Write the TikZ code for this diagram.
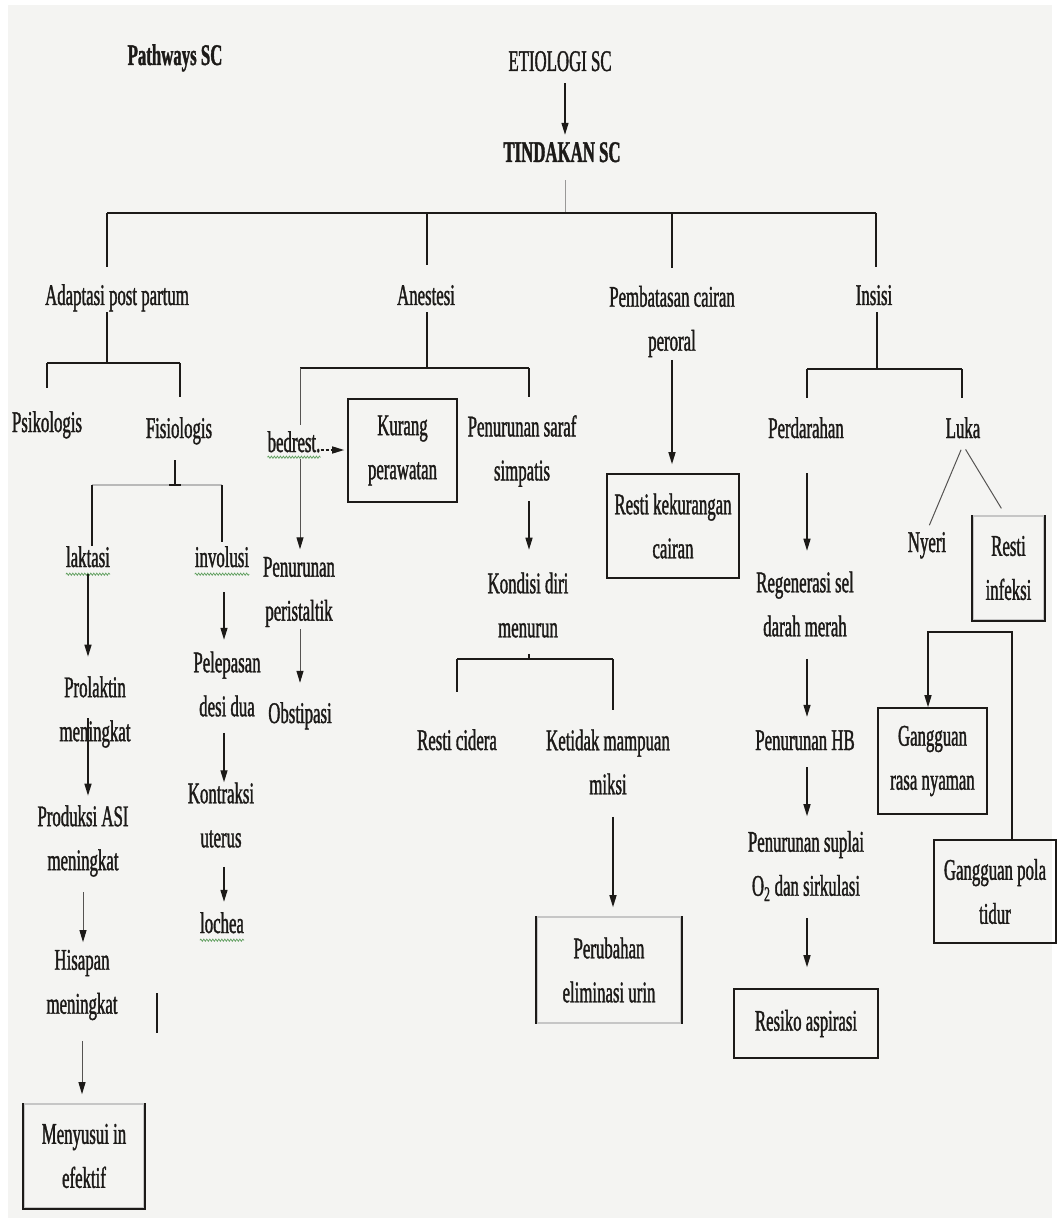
\documentclass[tikz,border=0pt]{standalone}
\usepackage{fontspec}
\setmainfont{Liberation Serif}[FakeStretch=0.56, UprightFeatures={FakeBold=1.2}, BoldFeatures={FakeBold=1.2}]
\usetikzlibrary{arrows.meta,decorations.pathmorphing}
\definecolor{bg}{HTML}{F4F4F2}
\definecolor{ink}{HTML}{1C1A18}
\definecolor{wavygreen}{HTML}{5E9E5E}
\tikzset{
  lbl/.style={font=\fontsize{30}{44}\selectfont, text=ink, inner sep=0pt},
  one/.style={lbl, text height=21pt, text depth=7pt},
  two/.style={lbl, align=center},
  bx/.style={lbl, align=center, draw=ink, line width=1.6pt},
  ln/.style={draw=ink, line width=1.4pt},
  thinln/.style={draw=ink!75, line width=1pt},
  arr/.style={ln, -{Triangle[length=12pt,width=7pt]}},
  thinarr/.style={thinln, -{Triangle[length=12pt,width=7pt,color=ink]}},
  wav/.style={draw=wavygreen, line width=0.7pt, decorate, decoration={snake, amplitude=1.1pt, segment length=3pt}},
}
\begin{document}
\begin{tikzpicture}[x=1pt,y=-1pt]
\useasboundingbox (0,0) rectangle (1058,1222);
\fill[white] (0,0) rectangle (1058,1222);
\fill[bg] (8,5) rectangle (1052,1218);

% ---- top ----
\node[one, font=\fontsize{30}{44}\selectfont\bfseries] (pathways) at (175,58) {Pathways SC};
\node[one] (etiologi) at (560,64) {ETIOLOGI SC};
\node[one, font=\fontsize{30}{44}\selectfont\bfseries] (tindakan) at (562,155) {TINDAKAN SC};

% ---- level 1 ----
\node[one] (adapt) at (117,298) {Adaptasi post partum};
\node[one] (anest) at (426,298) {Anestesi};
\node[two] (pembat) at (672,321.5) {Pembatasan cairan\\peroral};
\node[one] (insisi) at (874,298) {Insisi};

% ---- adaptasi branch ----
\node[one] (psiko) at (47,425) {Psikologis};
\node[one] (fisio) at (179,431) {Fisiologis};
\node[one] (laktasi) at (88,560) {laktasi};
\node[one] (involusi) at (222,560) {involusi};
\node[two] (prolaktin) at (95,712) {Prolaktin\\meningkat};
\node[two] (produksi) at (83,841) {Produksi ASI\\meningkat};
\node[two] (hisapan) at (82,985) {Hisapan\\meningkat};
\node[bx, draw=gray!45, minimum width=120pt, minimum height=104pt] (menyusui) at (84,1156) {Menyusui in\\efektif};
\node[two] (pelepasan) at (227,684) {Pelepasan\\desi dua};
\node[two] (kontraksi) at (221,815) {Kontraksi\\uterus};
\node[one] (lochea) at (222,926) {lochea};

% ---- anestesi branch ----
\node[one] (bedrest) at (294,445) {bedrest.};
\node[bx, minimum width=109pt, minimum height=103pt] (kurang) at (402.5,450.5) {Kurang\\perawatan};
\node[two] (penPeris) at (299,592) {Penurunan\\peristaltik};
\node[one] (obstipasi) at (300,716) {Obstipasi};
\node[two] (penSaraf) at (522,451) {Penurunan saraf\\simpatis};
\node[two] (kondisi) at (528,605) {Kondisi diri\\menurun};
\node[one] (restiCidera) at (457,743) {Resti cidera};
\node[two] (ketidak) at (608,762) {Ketidak mampuan\\miksi};
\node[bx, draw=gray!45, minimum width=144pt, minimum height=106pt] (perubahan) at (609,970) {Perubahan\\eliminasi urin};

% ---- pembatasan branch ----
\node[bx, minimum width=132pt, minimum height=104pt] (restiKek) at (673,526) {Resti kekurangan\\cairan};

% ---- insisi branch ----
\node[one] (perdarahan) at (806,431) {Perdarahan};
\node[one] (luka) at (963,431) {Luka};
\node[one] (nyeri) at (927,545) {Nyeri};
\node[bx, draw=gray!45, minimum width=71pt, minimum height=104pt] (restiInf) at (1008.5,568) {Resti\\infeksi};
\node[two] (regen) at (805,604) {Regenerasi sel\\darah merah};
\node[one] (penHB) at (805,743) {Penurunan HB};
\node[two] (penSuplai) at (806,866) {Penurunan suplai\\O\textsubscript{2} dan sirkulasi};
\node[bx, minimum width=144pt, minimum height=69pt] (resiko) at (806,1023.5) {Resiko aspirasi};
\node[bx, minimum width=109pt, minimum height=106pt] (ggRasa) at (932.5,761) {Gangguan\\rasa nyaman};
\node[bx, minimum width=122pt, minimum height=103pt] (ggPola) at (995,891.5) {Gangguan pola\\tidur};

% ---- partially pale box edges ----
\draw[ln, line width=1.6pt] (menyusui.north west) -- (menyusui.south west) -- (menyusui.south east) -- (menyusui.north east);
\draw[ln, line width=1.6pt] (perubahan.north west) -- (perubahan.south west);
\draw[ln, line width=1.6pt] (perubahan.north east) -- (perubahan.south east);
\draw[ln, line width=1.6pt] (restiInf.north west) -- (restiInf.south west) -- (restiInf.south east) -- (restiInf.north east);

% ---- spell-check underlines ----
\draw[wav] (laktasi.south west) -- (laktasi.south east);
\draw[wav] (involusi.south west) -- (involusi.south east);
\draw[wav] ([yshift=2pt]bedrest.south west) -- ([yshift=2pt]bedrest.south east);
\draw[wav] (lochea.south west) -- (lochea.south east);

% ---- column helpers ----
\coordinate (cEt) at (565,0);
\coordinate (cLak) at (88,0);
\coordinate (cInv) at (224,0);

% ---- top connectors ----
\draw[arr, shorten <=5pt, shorten >=6pt] (cEt |- etiologi.south) -- (cEt |- tindakan.north);
\coordinate (t0) at (565,213);
\coordinate (t1) at (107,213);
\coordinate (t2) at (427,213);
\coordinate (t3) at (672,213);
\coordinate (t4) at (876,213);
\draw[thinln, draw=ink!45, shorten <=11pt] (t0 |- tindakan.south) -- (t0);
\draw[ln] (t1) -- (t4);
\draw[ln, shorten >=17pt] (t1) -- (t1 |- adapt.north);
\draw[ln, shorten >=19pt] (t2) -- (t2 |- anest.north);
\draw[ln, shorten >=18pt] (t3) -- (t3 |- pembat.north);
\draw[ln, shorten >=17pt] (t4) -- (t4 |- insisi.north);

% ---- adaptasi ----
\coordinate (a0) at (107,363);
\coordinate (a1) at (47,363);
\coordinate (a2) at (180,363);
\draw[ln] (adapt.south -| a0) -- (a0);
\draw[ln] (a1) -- (a2);
\draw[ln, shorten >=23pt] (a1) -- (a1 |- psiko.north);
\draw[ln, shorten >=20pt] (a2) -- (a2 |- fisio.north);

\coordinate (f0) at (175,485);
\coordinate (f1) at (92,485);
\coordinate (f2) at (222,485);
\draw[ln, shorten <=15pt] (fisio.south -| f0) -- (f0);
\draw[draw=gray!55, line width=2.4pt] (f1) -- (f2);
\draw[ln] ([xshift=-6pt]f0) -- ([xshift=6pt]f0);
\draw[ln] (f1) -- (f1 |- laktasi.north);
\draw[ln, shorten >=4pt] (f2) -- (f2 |- involusi.north);

\draw[arr, shorten >=19.5pt] (cLak |- laktasi.south) -- (cLak |- prolaktin.north);
\draw[arr, shorten <=6pt, shorten >=9.5pt] (cLak |- prolaktin.center) -- (cLak |- produksi.north);
\draw[thinarr, shorten <=15.5pt, shorten >=7.5pt] (produksi.south) -- (produksi.south |- hisapan.north);
\draw[thinarr, shorten <=20.5pt, shorten >=9pt] (hisapan.south) -- (hisapan.south |- menyusui.north);
\draw[ink, line width=2.2pt] (157,993) -- (157,1033);

\draw[arr, shorten <=18pt, shorten >=11.5pt] (cInv |- involusi.south) -- (cInv |- pelepasan.north);
\draw[arr, shorten <=16pt] (cInv |- pelepasan.south) -- (cInv |- kontraksi.north);
\draw[arr, shorten <=19pt, shorten >=10pt] (cInv |- kontraksi.south) -- (cInv |- lochea.north);

% ---- anestesi ----
\coordinate (n0) at (427,368);
\coordinate (n1) at (300,368);
\coordinate (n2) at (529,368);
\draw[ln] (anest.south -| n0) -- (n0);
\draw[ln] (n1) -- (n2);
\draw[thinln, shorten >=6pt] (n1) -- (n1 |- bedrest.north);
\draw[thinarr, shorten >=7.5pt] (n1 |- bedrest.south) -- (n1 |- penPeris.north);
\draw[thinarr, shorten <=2pt, shorten >=19pt] (n1 |- penPeris.south) -- (n1 |- obstipasi.north);
\draw[arr, dash pattern=on 3pt off 2pt, shorten >=3pt] ([yshift=-5pt]bedrest.east) -- ([yshift=-5pt]bedrest.east -| kurang.west);

\draw[ln, shorten >=18pt] (n2) -- (n2 |- penSaraf.north);
\draw[arr, shorten <=14.5pt, shorten >=22.5pt] (n2 |- penSaraf.south) -- (n2 |- kondisi.north);
\coordinate (k0) at (529,659);
\coordinate (k1) at (457,659);
\coordinate (k2) at (613,659);
\draw[ln, shorten <=16pt] (k0 |- kondisi.south) -- (k0);
\draw[ln] (k1) -- (k2);
\draw[ln, shorten >=37pt] (k1) -- (k1 |- restiCidera.north);
\draw[ln, shorten >=19.5pt] (k2) -- (k2 |- ketidak.north);
\draw[arr, shorten <=22pt, shorten >=9pt] (k2 |- ketidak.south) -- (k2 |- perubahan.north);

% ---- pembatasan ----
\draw[arr, shorten <=2.5pt, shorten >=9pt] (t3 |- pembat.south) -- (t3 |- restiKek.north);

% ---- insisi ----
\coordinate (i0) at (877,369);
\coordinate (i1) at (807,369);
\coordinate (i2) at (962,369);
\draw[ln] (insisi.south -| i0) -- (i0);
\draw[ln] (i1) -- (i2);
\draw[ln, shorten >=19pt] (i1) -- (i1 |- perdarahan.north);
\draw[ln, shorten >=19pt] (i2) -- (i2 |- luka.north);
\draw[arr, shorten <=28pt, shorten >=20.5pt] (i1 |- perdarahan.south) -- (i1 |- regen.north);
\draw[arr, shorten <=22pt, shorten >=12pt] (i1 |- regen.south) -- (i1 |- penHB.north);
\draw[arr, shorten <=10pt, shorten >=14.5pt] (i1 |- penHB.south) -- (i1 |- penSuplai.north);
\draw[arr, shorten <=17pt, shorten >=21pt] (i1 |- penSuplai.south) -- (i1 |- resiko.north);
\draw[thinln, shorten <=5pt, shorten >=6pt] (luka.south) -- (nyeri.north);
\draw[thinln, shorten <=5pt, shorten >=8pt] (luka.south) -- ([xshift=-3pt]restiInf.north);
\coordinate (g1) at (928,632);
\coordinate (g2) at (1012,632);
\draw[arr] (g2 |- ggPola.north) -- (g2) -- (g1) -- (g1 |- ggRasa.north);
\end{tikzpicture}
\end{document}
